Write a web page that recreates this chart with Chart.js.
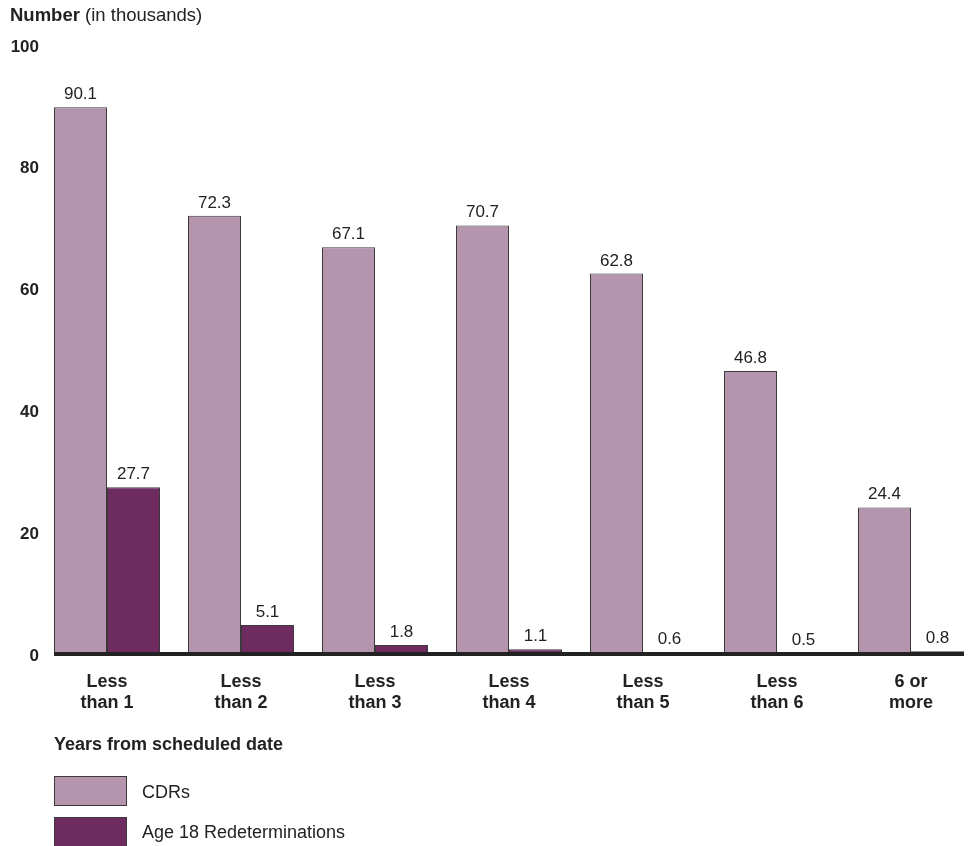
<!DOCTYPE html>
<html>
<head>
<meta charset="utf-8">
<script src="https://cdn.jsdelivr.net/npm/chart.js@4/dist/chart.umd.min.js"></script>
<style>
  html, body { margin: 0; padding: 0; overflow: hidden; background: #fff; width: 972px; height: 846px; }
  body { position: relative; font-family: "Liberation Sans", Arial, sans-serif; color: #222; }
  #wrap { position: absolute; left: 0; top: 0; width: 1000px; height: 846px; }
  .txt { position: absolute; font-size: 18px; color: #222; white-space: nowrap; line-height: 22px; }
  .sw { position: absolute; width: 71px; height: 28px; border: 1px solid #3a3a3a; }
</style>
</head>
<body>
<div id="wrap"><canvas id="c" width="1000" height="846"></canvas></div>
<div class="txt" style="left:10px; top:4px; font-size:18.5px;"><b>Number</b> (in thousands)</div>
<div class="txt" style="left:54px; top:733px; font-weight:bold;">Years from scheduled date</div>
<div class="sw" style="left:54px; top:776px; background:#B595AE;"></div>
<div class="txt" style="left:142px; top:781px;">CDRs</div>
<div class="sw" style="left:54px; top:817px; background:#6D2B5F;"></div>
<div class="txt" style="left:142px; top:821px;">Age 18 Redeterminations</div>
<script>
const categories = [["Less","than 1"],["Less","than 2"],["Less","than 3"],["Less","than 4"],["Less","than 5"],["Less","than 6"],["6 or","more"]];
const cdrs = [90.1, 72.3, 67.1, 70.7, 62.8, 46.8, 24.4];
const age18 = [27.7, 5.1, 1.8, 1.1, 0.6, 0.5, 0.8];
const yTicks = [0, 20, 40, 60, 80, 100];

const FONT = "'Liberation Sans', Arial, sans-serif";

const valueLabels = {
  id: 'valueLabels',
  afterDatasetsDraw(chart) {
    const ctx = chart.ctx;
    ctx.save();
    ctx.font = '17px ' + FONT;
    ctx.fillStyle = '#222';
    ctx.textAlign = 'center';
    ctx.textBaseline = 'alphabetic';
    chart.data.datasets.forEach((ds, i) => {
      const meta = chart.getDatasetMeta(i);
      meta.data.forEach((bar, j) => {
        ctx.fillText(ds.data[j].toFixed(1), bar.x, bar.y - 8);
      });
    });
    ctx.restore();
  }
};

const baseline = {
  id: 'baseline',
  afterDatasetsDraw(chart) {
    const ctx = chart.ctx;
    const m0 = chart.getDatasetMeta(0).data;
    const m1 = chart.getDatasetMeta(1).data;
    const first = m0[0], last = m1[m1.length - 1];
    const x0 = first.x - first.width / 2;
    const x1 = last.x + last.width / 2;
    const y0 = chart.scales.y.getPixelForValue(0);
    ctx.save();
    ctx.fillStyle = '#222';
    ctx.fillRect(x0, y0 - 4, x1 - x0, 4);
    ctx.restore();
  }
};

new Chart(document.getElementById('c'), {
  type: 'bar',
  data: {
    labels: categories,
    datasets: [
      { label: 'CDRs', data: cdrs, backgroundColor: '#B595AE', borderColor: '#3a3a3a', borderWidth: 1, categoryPercentage: 0.791, barPercentage: 1 },
      { label: 'Age 18 Redeterminations', data: age18, backgroundColor: '#6D2B5F', borderColor: '#3a3a3a', borderWidth: 1, categoryPercentage: 0.791, barPercentage: 1 }
    ]
  },
  options: {
    responsive: false,
    animation: false,
    devicePixelRatio: 1,
    layout: { padding: { left: 0, right: 22, top: 47, bottom: 0 } },
    plugins: { legend: { display: false }, tooltip: { enabled: false }, title: { display: false } },
    scales: {
      x: {
        offset: true,
        grid: { display: false, drawTicks: false },
        border: { display: false },
        ticks: { color: '#222', font: { family: FONT, size: 18, weight: 'bold', lineHeight: 1.14 }, padding: 16, maxRotation: 0, autoSkip: false },
        afterFit(s) { s.height = 190; }
      },
      y: {
        min: 0, max: 100,
        afterBuildTicks(s) { s.ticks = yTicks.map(v => ({ value: v })); },
        grid: { display: false, drawTicks: false },
        border: { display: false },
        ticks: { color: '#222', font: { family: FONT, size: 17, weight: 'bold' }, padding: 1 },
        afterFit(s) { s.width = 40; }
      }
    }
  },
  plugins: [valueLabels, baseline]
});
</script>
</body>
</html>
